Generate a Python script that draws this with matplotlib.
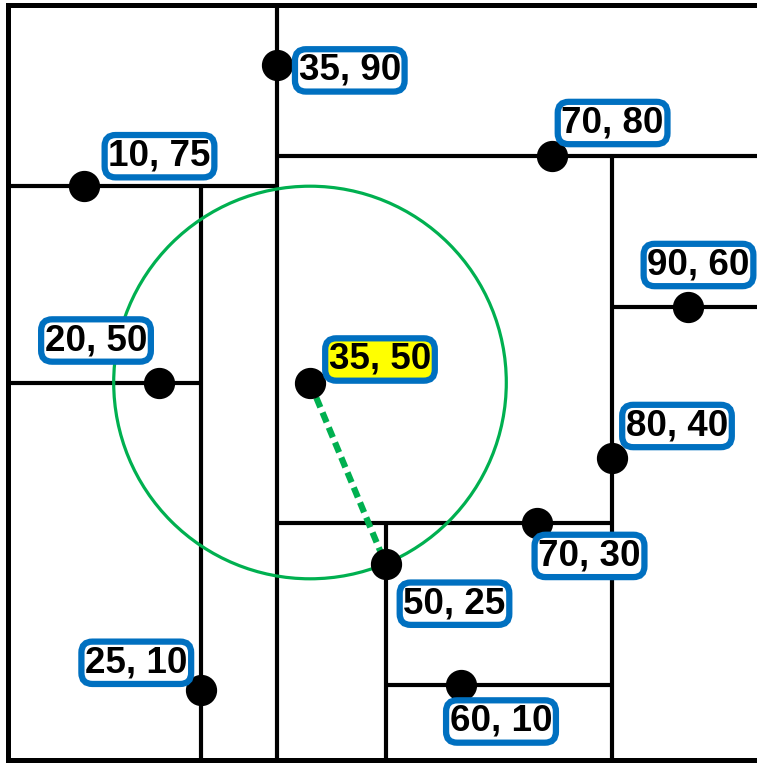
import matplotlib
matplotlib.use('Agg')
import matplotlib.pyplot as plt
from matplotlib.patches import Circle
import numpy as np


# kd-tree points in insertion order (as drawn in the diagram)
point_labels = ['35, 90', '10, 75', '70, 80', '25, 10', '20, 50',
                '80, 40', '70, 30', '90, 60', '50, 25', '60, 10']
point_x = [35.6, 10, 72, 25.6, 20, 80, 70, 90, 50, 60]
point_y = [92, 76, 80, 9.3, 50, 40, 31.4, 60, 26, 10]

# query point and the current best candidate
query_label = '35, 50'
query_x, query_y = 40, 50
best_label = '50, 25'

# label offsets from each point (pixels)
label_offsets = {
    '35, 90': (73, -5), '10, 75': (76, 30), '70, 80': (61, 33),
    '25, 10': (-65, 27), '20, 50': (-63, 42), '80, 40': (65, 32),
    '70, 30': (53, -33), '90, 60': (11, 42), '50, 25': (69, -40),
    '60, 10': (40, -37), '35, 50': (70, 23),
}

BLUE = '#0070C0'
GREEN = '#00B050'


def build_tree(xs, ys):
    # insert points one by one, alternating split axis
    nodes = []
    for i, (x, y) in enumerate(zip(xs, ys)):
        node = {'i': i, 'p': (x, y), 'left': None, 'right': None}
        if not nodes:
            node['depth'] = 0
            nodes.append(node)
            continue
        cur = nodes[0]
        while True:
            ax_ = cur['depth'] % 2
            side = 'left' if (x, y)[ax_] < cur['p'][ax_] else 'right'
            if cur[side] is None:
                node['depth'] = cur['depth'] + 1
                cur[side] = node
                break
            cur = cur[side]
        nodes.append(node)
    return nodes[0]


def draw_splits(ax, node, xmin, xmax, ymin, ymax):
    if node is None:
        return
    x, y = node['p']
    if node['depth'] % 2 == 0:
        ax.plot([x, x], [ymin, ymax], color='black', lw=3, solid_capstyle='butt', zorder=2)
        draw_splits(ax, node['left'], xmin, x, ymin, ymax)
        draw_splits(ax, node['right'], x, xmax, ymin, ymax)
    else:
        ax.plot([xmin, xmax], [y, y], color='black', lw=3, solid_capstyle='butt', zorder=2)
        draw_splits(ax, node['left'], xmin, xmax, ymin, y)
        draw_splits(ax, node['right'], xmin, xmax, y, ymax)


W, H = 757, 763
fig = plt.figure(figsize=(W / 100, H / 100), dpi=100)
ax = fig.add_axes([8 / W, 3 / H, 755 / W, 755 / H])
ax.set_xlim(0, 100)
ax.set_ylim(0, 100)
ax.set_xticks([])
ax.set_yticks([])
for sp in ax.spines.values():
    sp.set_linewidth(3.6)
    sp.set_zorder(5)

root = build_tree(point_x, point_y)
draw_splits(ax, root, 0, 100, 0, 100)

# search circle around the query, radius = distance to the current best
bi = point_labels.index(best_label)
bx, by = point_x[bi], point_y[bi]
radius = np.hypot(bx - query_x, by - query_y)
ax.add_patch(Circle((query_x, query_y), radius, fill=False, edgecolor=GREEN, lw=2.3, zorder=3))
ax.plot([query_x, bx], [query_y, by], color=GREEN, lw=4.5, ls=(0, (1.7, 0.9)), zorder=3)

ax.scatter(point_x + [query_x], point_y + [query_y], s=21.5 ** 2, color='black', zorder=4)

font = ['Liberation Sans', 'DejaVu Sans']
for lbl, x, y in zip(point_labels + [query_label], point_x + [query_x], point_y + [query_y]):
    face = '#FFFF00' if lbl == query_label else 'white'
    ax.annotate(lbl, (x, y), xytext=label_offsets[lbl], textcoords='offset pixels',
                ha='center', va='center', fontsize=26.5, fontweight='bold', family=font,
                bbox=dict(boxstyle='round,pad=0.1,rounding_size=0.3', facecolor=face,
                          edgecolor=BLUE, lw=4.5),
                zorder=6)

fig.savefig('out.png', dpi=100)
